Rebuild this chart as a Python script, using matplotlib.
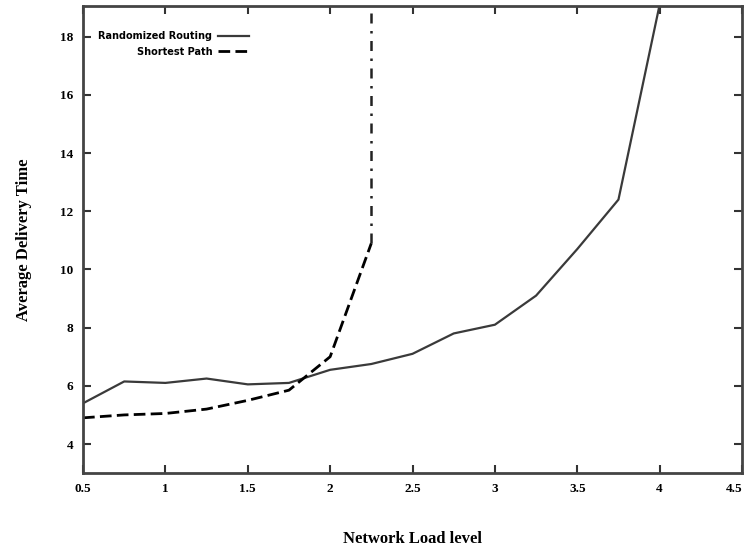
import matplotlib
matplotlib.use("Agg")
import matplotlib.pyplot as plt

load_levels = [0.5, 0.75, 1.0, 1.25, 1.5, 1.75, 2.0, 2.25, 2.5, 2.75, 3.0, 3.25, 3.5, 3.75, 4.0]
randomized = [5.4, 6.15, 6.1, 6.25, 6.05, 6.1, 6.55, 6.75, 7.1, 7.8, 8.1, 9.1, 10.7, 12.4, 19.1]

sp_levels = [0.5, 0.75, 1.0, 1.25, 1.5, 1.75, 2.0, 2.25, 2.25]
shortest = [4.9, 5.0, 5.05, 5.2, 5.5, 5.85, 7.0, 10.9, 19.5]

x_ticks = [0.5, 1, 1.5, 2, 2.5, 3, 3.5, 4, 4.5]
x_tick_labels = ["0.5", "1", "1.5", "2", "2.5", "3", "3.5", "4", "4.5"]
y_ticks = [4, 6, 8, 10, 12, 14, 16, 18]

fig = plt.figure(figsize=(7.48, 5.54), dpi=100)
ax = fig.add_axes([0.111, 0.146, 0.881, 0.843])

ax.plot(load_levels, randomized, color="#3a3a3a", lw=1.6, label="Randomized Routing")
ax.plot(sp_levels[:-1], shortest[:-1], color="black", lw=2.0, ls=(0, (4.2, 1.9)), label="Shortest Path")
# vertical blow-up part drawn with shorter dashes
ax.plot(sp_levels[-2:], shortest[-2:], color="#222222", lw=1.8, ls=(0, (4, 3, 1, 3)))

ax.set_xlim(0.5, 4.5)
ax.set_ylim(3, 19.05)
ax.set_xticks(x_ticks)
ax.set_xticklabels(x_tick_labels)
ax.set_yticks(y_ticks)

serif = {"family": "Liberation Serif", "weight": "bold"}
for lab in ax.get_xticklabels() + ax.get_yticklabels():
    lab.set_fontfamily("Liberation Serif")
    lab.set_fontweight("bold")
    lab.set_fontsize(9.5)
# last label sits at the figure edge, keep it inside
ax.get_xticklabels()[-1].set_ha("right")

ax.tick_params(direction="in", length=6, width=1.5, color="#333333",
               top=True, right=True, pad=7)
for s in ax.spines.values():
    s.set_linewidth(2)
    s.set_color("#444444")

ax.set_xlabel("Network Load level", fontdict=serif, fontsize=12, labelpad=26)
ax.set_ylabel("Average Delivery Time", fontdict=serif, fontsize=12, labelpad=20)

leg = ax.legend(loc="upper left", bbox_to_anchor=(0.01, 0.965), frameon=False,
                markerfirst=False, handlelength=3.2, handletextpad=0.6,
                labelspacing=0.55, prop={"family": "DejaVu Sans", "weight": "bold", "size": 7})
for t in leg.get_texts():
    t.set_ha("right")
leg._legend_box.align = "right"

fig.savefig("out.png", dpi=100)
